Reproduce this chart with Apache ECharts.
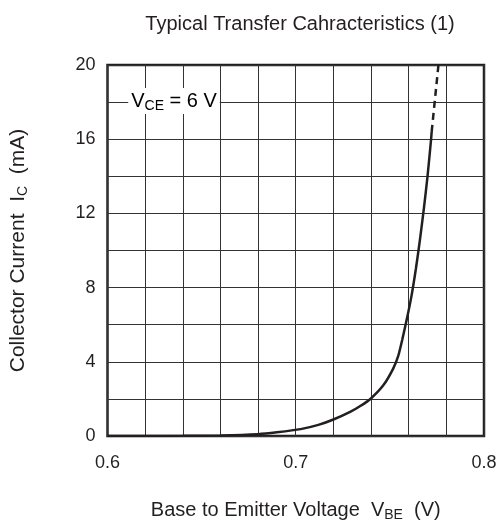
<!DOCTYPE html>
<html>
<head>
<meta charset="utf-8">
<script src="https://cdn.jsdelivr.net/npm/echarts@6/dist/echarts.min.js"></script>
<style>
  html, body { margin: 0; padding: 0; background: #fff; }
  #chart { width: 502px; height: 527px; }
</style>
</head>
<body>
<div id="chart"></div>
<script>
// measured curve (solid part)
const vbe = [0.60, 0.62, 0.64, 0.66, 0.68, 0.69, 0.7026, 0.712, 0.72, 0.7289, 0.7345, 0.7398, 0.7465, 0.7517, 0.7544, 0.7566, 0.759, 0.7614, 0.7638, 0.766, 0.7681, 0.77, 0.7719, 0.7722];
const ic  = [0, 0.004, 0.01, 0.03, 0.1, 0.2, 0.37, 0.6, 0.89, 1.3, 1.63, 2.01, 2.73, 3.62, 4.3, 5.2, 6.3, 7.5, 9.0, 10.6, 12.3, 14.0, 16.0, 16.4];
// extrapolated (dashed) part
const vbeDash = [0.7722, 0.774, 0.7758];
const icDash  = [16.4, 18.2, 20];

const ink = '#231f20';
const font = 'Liberation Sans, Arial, sans-serif';
const sub = { fontSize: 14, padding: [10, 0, 0, 0], color: ink, fontFamily: font };
const norm = { fontSize: 20, color: ink, fontFamily: font };

const chart = echarts.init(document.getElementById('chart'));
chart.setOption({
  animation: false,
  title: {
    text: 'Typical Transfer Cahracteristics (1)',
    left: 295, top: 9, textAlign: 'center',
    textStyle: { fontSize: 20, fontWeight: 'normal', color: ink, fontFamily: font }
  },
  grid: {
    left: 105, right: 18, top: 65, bottom: 88,
    show: true, borderColor: ink, borderWidth: 2.5, backgroundColor: 'transparent'
  },
  xAxis: {
    type: 'value', min: 0.6, max: 0.8, interval: 0.1,
    name: 'Base to Emitter Voltage  V{s|BE}  (V)',
    nameLocation: 'middle', nameGap: 62,
    nameTextStyle: { fontSize: 20, color: ink, fontFamily: font, rich: { s: sub } },
    axisLine: { show: false }, axisTick: { show: false },
    axisLabel: { fontSize: 18, color: ink, fontFamily: font, margin: 18, formatter: v => v.toFixed(1) },
    splitLine: { lineStyle: { color: '#333', width: 1 } },
    minorTick: { show: false, splitNumber: 5 },
    minorSplitLine: { show: true, lineStyle: { color: '#333', width: 1 } }
  },
  yAxis: {
    type: 'value', min: 0, max: 20, interval: 4,
    name: 'Collector Current  I{s|C}  (mA)',
    nameLocation: 'middle', nameGap: 77,
    nameTextStyle: { fontSize: 21, color: ink, fontFamily: font, rich: { s: sub } },
    axisLine: { show: false }, axisTick: { show: false },
    axisLabel: { fontSize: 18, color: ink, fontFamily: font, margin: 12 },
    splitLine: { lineStyle: { color: '#333', width: 1 } },
    minorTick: { show: false, splitNumber: 2 },
    minorSplitLine: { show: true, lineStyle: { color: '#333', width: 1 } }
  },
  series: [
    {
      type: 'line', data: vbe.map((v, i) => [v, ic[i]]),
      smooth: 0.2, showSymbol: false, z: 5,
      lineStyle: { color: ink, width: 2.5 }
    },
    {
      type: 'line', data: vbeDash.map((v, i) => [v, icDash[i]]),
      showSymbol: false, z: 5,
      lineStyle: { color: ink, width: 2.5, type: [7, 5] }
    }
  ]
});

// V_CE annotation, sits on the 18 mA grid line
const p = chart.convertToPixel({ gridIndex: 0 }, [0.611, 18]);
chart.setOption({
  graphic: [{
    type: 'text', left: p[0], top: p[1] - 14, z: 10,
    style: {
      text: '{n|V}{s|CE}{n| = 6 V}',
      backgroundColor: '#fff', padding: [1, 3, 1, 3],
      rich: { n: norm, s: sub }
    }
  }]
});
</script>
</body>
</html>
